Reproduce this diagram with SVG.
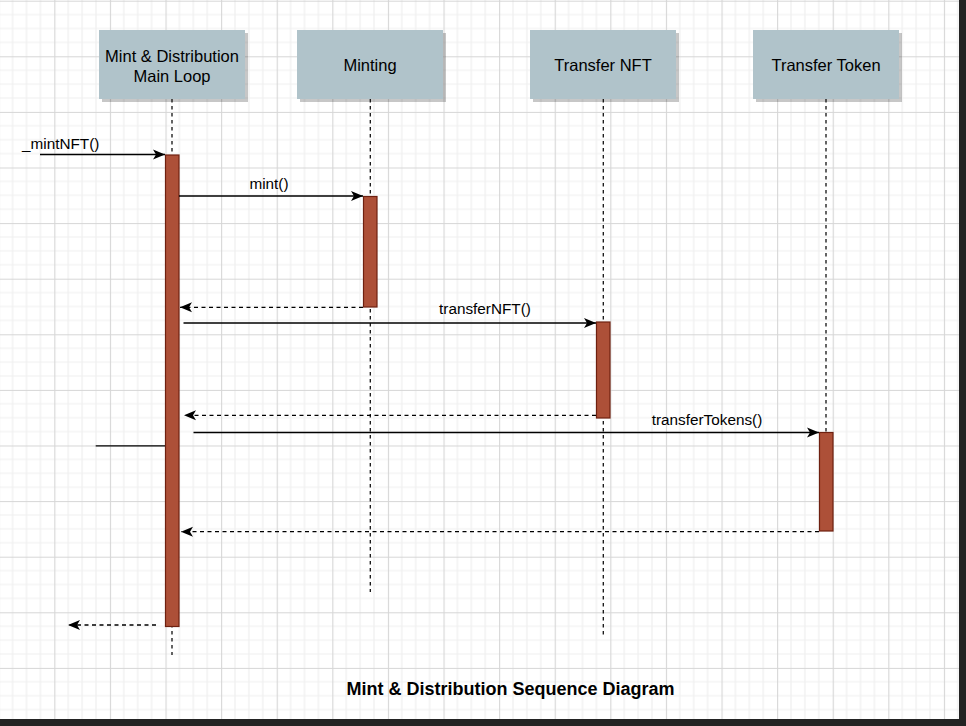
<svg xmlns="http://www.w3.org/2000/svg" width="966" height="726" viewBox="0 0 966 726">
<style>
text{font-family:"Liberation Sans",Arial,Helvetica,sans-serif;fill:#000}
.hd{font-size:16.5px;text-anchor:middle}
.lb{font-size:15.3px}
.ttl{font-size:18px;font-weight:bold;text-anchor:middle}
.box{fill:#b0c3ca}
.shd{fill:#000;opacity:.22}
.life{stroke:#111;stroke-width:1.3;stroke-dasharray:3.5 3.5;fill:none}
.act{fill:#ad5038;stroke:#6e2010;stroke-width:1.2}
.msg{stroke:#000;stroke-width:1.3;fill:none}
.ret{stroke:#000;stroke-width:1.3;fill:none;stroke-dasharray:4 3.5}
</style>
<defs>
<pattern id="grid" patternUnits="userSpaceOnUse" x="-1.3" y="0.7" width="55.6" height="55.6">
<path d="M13.9 0V55.6M27.8 0V55.6M41.7 0V55.6M0 13.9H55.6M0 27.8H55.6M0 41.7H55.6" stroke="#efefef" stroke-width="1.2" fill="none"/>
<path d="M0.5 0V55.6M0 0.5H55.6" stroke="#d6d6d6" stroke-width="1.2" fill="none"/>
</pattern>
<marker id="arr" markerUnits="userSpaceOnUse" markerWidth="14" markerHeight="12" viewBox="0 0 14 12" refX="13" refY="6" orient="auto">
<path d="M1 1L13 6L1 11L4 6Z" fill="#000"/>
</marker>
</defs>
<rect width="966" height="726" fill="#fff"/>
<rect width="959" height="719" fill="url(#grid)"/>
<rect x="959" y="0" width="7" height="726" fill="#232323"/>
<rect x="0" y="719" width="966" height="7" fill="#232323"/>

<g id="lifeline-main">
<rect class="shd" x="102" y="33" width="146" height="69"/>
<rect class="box" x="99" y="30" width="146" height="69"/>
<text class="hd" x="172" y="62">Mint &amp; Distribution</text>
<text class="hd" x="172" y="82">Main Loop</text>
<path class="life" d="M172 99V655"/>
<rect class="act" x="165.5" y="155" width="13.5" height="471.5"/>
</g>
<g id="lifeline-minting">
<rect class="shd" x="300" y="33" width="146" height="69"/>
<rect class="box" x="297" y="30" width="146" height="69"/>
<text class="hd" x="370" y="71">Minting</text>
<path class="life" d="M370.3 99V592"/>
<rect class="act" x="363.5" y="196.5" width="13.5" height="110.5"/>
</g>
<g id="lifeline-transfer-nft">
<rect class="shd" x="533" y="33" width="146" height="69"/>
<rect class="box" x="530" y="30" width="146" height="69"/>
<text class="hd" x="603" y="71">Transfer NFT</text>
<path class="life" d="M603.3 99V635"/>
<rect class="act" x="596.5" y="322" width="13.5" height="96"/>
</g>
<g id="lifeline-transfer-token">
<rect class="shd" x="756" y="33" width="146" height="69"/>
<rect class="box" x="753" y="30" width="146" height="69"/>
<text class="hd" x="826" y="71">Transfer Token</text>
<path class="life" d="M826 99V432"/>
<rect class="act" x="819.5" y="432.5" width="13.5" height="98.5"/>
</g>

<g id="connectors">
<path class="msg" d="M40 154.5H165" marker-end="url(#arr)"/>
<text class="lb" x="22" y="148.5">_mintNFT()</text>
<path class="msg" d="M179 196H363" marker-end="url(#arr)"/>
<text class="lb" x="269" y="188.5" text-anchor="middle">mint()</text>
<path class="ret" d="M363 307.3H180" marker-end="url(#arr)"/>
<path class="msg" d="M183.5 323H596" marker-end="url(#arr)"/>
<text class="lb" x="485" y="313.5" text-anchor="middle">transferNFT()</text>
<path class="ret" d="M596 415.3H184" marker-end="url(#arr)"/>
<path class="msg" d="M193.5 432.5H819" marker-end="url(#arr)"/>
<text class="lb" x="707" y="425" text-anchor="middle">transferTokens()</text>
<path class="ret" d="M819 531.7H181" marker-end="url(#arr)"/>
<path class="msg" d="M95.7 445.8H165"/>
<path class="ret" d="M156 625H68" marker-end="url(#arr)"/>
</g>

<text class="ttl" x="510.5" y="694.5">Mint &amp; Distribution Sequence Diagram</text>
</svg>
